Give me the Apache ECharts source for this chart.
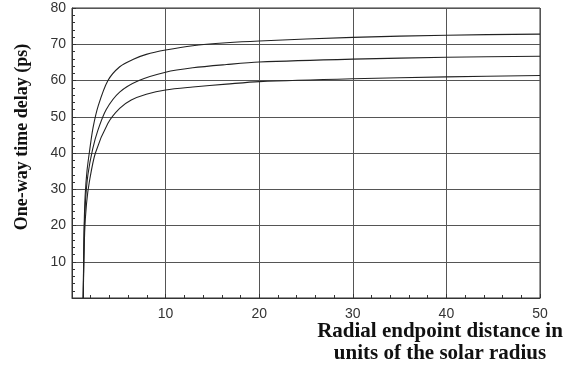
<!DOCTYPE html>
<html>
<head>
<meta charset="utf-8">
<script src="https://cdn.jsdelivr.net/npm/echarts@6/dist/echarts.min.js"></script>
<style>
  html, body { margin: 0; padding: 0; background: #fff; }
  #chart { width: 565px; height: 370px; }
</style>
</head>
<body>
<div id="chart"></div>
<script>
// distances in solar radii, delays in ps
const xTop = [1.2, 1.25, 1.3, 1.4, 1.6, 1.9, 2.25, 2.8, 3.84, 5.1, 6.5, 7.94, 10, 12.9, 16.5, 20, 30, 40, 50];
const yTop = [0, 12, 20, 28, 35, 41, 47, 53, 60, 63.8, 65.8, 67.2, 68.4, 69.6, 70.4, 70.9, 71.9, 72.5, 72.8];

const xMid = [1.2, 1.3, 1.45, 1.7, 2.2, 2.77, 3.66, 5.09, 7.15, 10, 12.9, 16.5, 20, 30, 40, 50];
const yMid = [0, 18, 27, 34, 41, 46.3, 52.0, 56.8, 60.0, 62.3, 63.5, 64.4, 65.1, 65.9, 66.4, 66.7];

const xLow = [1.2, 1.35, 1.55, 1.85, 2.5, 3.84, 5.09, 6.33, 7.94, 10, 12.9, 16.5, 20, 30, 40, 50];
const yLow = [0, 18, 26, 32, 40, 48.2, 52.3, 54.6, 56.2, 57.4, 58.2, 59.0, 59.7, 60.5, 61.0, 61.4];

const yTitle = 'One-way time delay (ps)';
const xTitle = 'Radial endpoint distance in\nunits of the solar radius';

const pairs = (xs, ys) => xs.map((x, i) => [x, ys[i]]);

const chart = echarts.init(document.getElementById('chart'));

const axisColor = '#333';
const gridColor = '#555';
const hideZero = v => (v === 0 ? '' : String(v));
// small ticks pointing into the plot
const majorTick = () => ({ show: true, inside: true, length: 4, lineStyle: { color: axisColor } });
const minorTick = () => ({ show: true, splitNumber: 5, length: 3, lineStyle: { color: axisColor } });

const line = (name, data) => ({
  name,
  type: 'line',
  data,
  showSymbol: false,
  smooth: 0.3,
  lineStyle: { color: '#222', width: 1.1 }
});

chart.setOption({
  animation: false,
  grid: {
    left: 72, right: 25, top: 8, bottom: 72,
    show: true, borderColor: axisColor, borderWidth: 1
  },
  xAxis: {
    type: 'value', min: 0, max: 50, interval: 10,
    axisLine: { lineStyle: { color: axisColor } },
    axisTick: majorTick(),
    minorTick: minorTick(),
    splitLine: { show: true, lineStyle: { color: gridColor, width: 1 } },
    axisLabel: {
      formatter: hideZero, color: '#333', fontSize: 14,
      fontFamily: 'Liberation Sans', margin: 9
    }
  },
  yAxis: {
    type: 'value', min: 0, max: 80, interval: 10,
    axisLine: { show: true, lineStyle: { color: axisColor } },
    axisTick: majorTick(),
    minorTick: minorTick(),
    splitLine: { show: true, lineStyle: { color: gridColor, width: 1 } },
    axisLabel: {
      formatter: hideZero, color: '#333', fontSize: 14,
      fontFamily: 'Liberation Sans', margin: 6
    }
  },
  graphic: [
    {
      type: 'text', x: 22, y: 137, rotation: Math.PI / 2,
      style: {
        text: yTitle, fill: '#111', font: 'bold 18px "Liberation Serif"',
        textAlign: 'center', textVerticalAlign: 'middle'
      }
    },
    {
      type: 'text', x: 440, y: 321,
      style: {
        text: xTitle, fill: '#111', font: 'bold 21px "Liberation Serif"',
        textAlign: 'center', lineHeight: 22
      }
    }
  ],
  series: [
    line('top', pairs(xTop, yTop)),
    line('middle', pairs(xMid, yMid)),
    line('bottom', pairs(xLow, yLow))
  ]
});
</script>
</body>
</html>
